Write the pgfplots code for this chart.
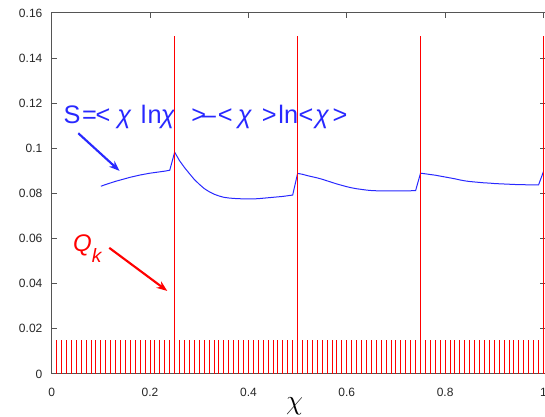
\documentclass[border=0pt]{standalone}
\usepackage{fontspec}
\setmainfont{Liberation Sans}
\usepackage{pgfplots}
\pgfplotsset{compat=1.18}
\usetikzlibrary{arrows.meta}
\definecolor{sblue}{RGB}{40,40,255}
\definecolor{qred}{RGB}{255,0,0}
\definecolor{axgray}{RGB}{85,85,85}
\begin{document}
\begin{tikzpicture}
\path[use as bounding box] (-38.8pt,-32.25pt) rectangle (370pt,280.5pt);
\begin{axis}[
  scale only axis, width=370.33pt, height=270.75pt,
  xmin=0, xmax=1.004, ymin=0, ymax=0.16,
  xtick={0,0.2,0.4,0.6,0.8,1}, xticklabels={0,0.2,0.4,0.6,0.8,1},
  ytick={0,0.02,0.04,0.06,0.08,0.1,0.12,0.14,0.16},
  yticklabels={0,0.02,0.04,0.06,0.08,0.1,0.12,0.14,0.16},
  tick align=inside, tick pos=both,
  major tick length=3.75pt,
  axis line style={axgray, line width=0.75pt},
  tick style={axgray, line width=0.75pt},
  tick label style={font=\fontsize{9}{10}\selectfont, text=black!85},
  xticklabel style={yshift=-7pt},
  yticklabel style={xshift=-3.5pt},
  /pgf/number format/assume math mode=true,
  clip=false,
]
% short impulses
\addplot[ycomb, qred, line width=0.75pt, no marks] table {
x y
0.01 0.015
0.02 0.015
0.03 0.015
0.04 0.015
0.05 0.015
0.06 0.015
0.07 0.015
0.08 0.015
0.09 0.015
0.10 0.015
0.11 0.015
0.12 0.015
0.13 0.015
0.14 0.015
0.15 0.015
0.16 0.015
0.17 0.015
0.18 0.015
0.19 0.015
0.20 0.015
0.21 0.015
0.22 0.015
0.23 0.015
0.24 0.015
0.26 0.015
0.27 0.015
0.28 0.015
0.29 0.015
0.30 0.015
0.31 0.015
0.32 0.015
0.33 0.015
0.34 0.015
0.35 0.015
0.36 0.015
0.37 0.015
0.38 0.015
0.39 0.015
0.40 0.015
0.41 0.015
0.42 0.015
0.43 0.015
0.44 0.015
0.45 0.015
0.46 0.015
0.47 0.015
0.48 0.015
0.49 0.015
0.51 0.015
0.52 0.015
0.53 0.015
0.54 0.015
0.55 0.015
0.56 0.015
0.57 0.015
0.58 0.015
0.59 0.015
0.60 0.015
0.61 0.015
0.62 0.015
0.63 0.015
0.64 0.015
0.65 0.015
0.66 0.015
0.67 0.015
0.68 0.015
0.69 0.015
0.70 0.015
0.71 0.015
0.72 0.015
0.73 0.015
0.74 0.015
0.76 0.015
0.77 0.015
0.78 0.015
0.79 0.015
0.80 0.015
0.81 0.015
0.82 0.015
0.83 0.015
0.84 0.015
0.85 0.015
0.86 0.015
0.87 0.015
0.88 0.015
0.89 0.015
0.90 0.015
0.91 0.015
0.92 0.015
0.93 0.015
0.94 0.015
0.95 0.015
0.96 0.015
0.97 0.015
0.98 0.015
0.99 0.015
};
% entropy curve
\addplot[sblue, line width=0.75pt, no marks] table {
x y
0.10 0.0832
0.11 0.0840
0.12 0.0847
0.13 0.0854
0.14 0.0860
0.15 0.0866
0.16 0.0872
0.17 0.0877
0.18 0.0882
0.19 0.0886
0.20 0.0890
0.21 0.0893
0.22 0.0896
0.23 0.0899
0.24 0.0903
0.25 0.0983
0.26 0.0945
0.27 0.0915
0.28 0.0888
0.29 0.0862
0.30 0.0841
0.31 0.0822
0.32 0.0808
0.33 0.0797
0.34 0.0789
0.35 0.0783
0.36 0.0780
0.37 0.0778
0.38 0.0777
0.39 0.0776
0.40 0.0776
0.41 0.0776
0.42 0.0777
0.43 0.0779
0.44 0.0781
0.45 0.0783
0.46 0.0785
0.47 0.0787
0.48 0.0790
0.49 0.0793
0.50 0.0889
0.51 0.0885
0.52 0.0879
0.53 0.0874
0.54 0.0869
0.55 0.0863
0.56 0.0856
0.57 0.0849
0.58 0.0842
0.59 0.0836
0.60 0.0830
0.61 0.0825
0.62 0.0821
0.63 0.0818
0.64 0.0815
0.65 0.0813
0.66 0.0812
0.67 0.0811
0.68 0.0811
0.69 0.0811
0.70 0.0811
0.71 0.0811
0.72 0.0811
0.73 0.0812
0.74 0.0813
0.75 0.0890
0.76 0.0887
0.77 0.0884
0.78 0.0881
0.79 0.0877
0.80 0.0873
0.81 0.0869
0.82 0.0865
0.83 0.0860
0.84 0.0856
0.85 0.0853
0.86 0.0851
0.87 0.0849
0.88 0.0847
0.89 0.0846
0.90 0.0844
0.91 0.0843
0.92 0.0842
0.93 0.0841
0.94 0.0840
0.95 0.0839
0.96 0.0839
0.97 0.0838
0.98 0.0838
0.99 0.0838
1.00 0.0897
};
% annotations
\node[anchor=base west, inner sep=0pt, text=sblue, font=\fontsize{19}{21}\selectfont]
  at (axis cs:0.0235,0.111) {S\kern1.2pt=\kern-1pt<\kern5.4pt\textit{χ}\kern7pt l\kern0.7pt n\kern-0.5pt\textit{χ}\kern12.2pt>\kern-3.2pt–\kern1.4pt<\kern3.9pt\textit{χ}\kern7.4pt>\kern1.3pt ln\kern0.3pt<\kern1.3pt\textit{χ}\kern2.5pt>};
\draw[sblue, line width=1.6pt, -{Stealth[length=8pt,width=6pt]}] (axis cs:0.054,0.1067) -- (axis cs:0.138,0.0900);
\node[anchor=base west, inner sep=0pt, text=qred, font=\fontsize{18}{20}\selectfont]
  at (axis cs:0.043,0.0545) {\textit{Q}\raisebox{-8.25pt}{\fontsize{14.5}{15}\selectfont\textit{k}}};
\draw[qred, line width=1.6pt, -{Stealth[length=8pt,width=6pt]}] (axis cs:0.117,0.0559) -- (axis cs:0.235,0.0368);
\node[anchor=center, inner sep=0pt, font=\fontsize{22}{24}\selectfont] at (axis cs:0.494,0) [yshift=-24pt] {$\chi$};
\end{axis}
% overlay axis: tall impulses drawn above the frame
\begin{axis}[
  scale only axis, width=370.33pt, height=270.75pt,
  xmin=0, xmax=1.004, ymin=0, ymax=0.16,
  hide axis, clip=false,
]
\addplot[ycomb, qred, line width=0.75pt, no marks] table {
x y
0.25 0.15
0.50 0.15
0.75 0.15
1.00 0.15
};
\end{axis}
\end{tikzpicture}
\end{document}
